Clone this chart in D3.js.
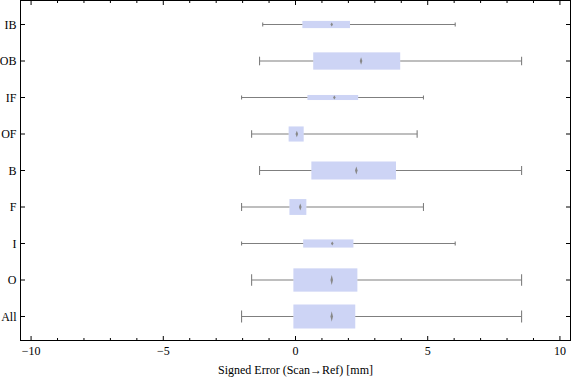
<!DOCTYPE html>
<html>
<head>
<meta charset="utf-8">
<script src="https://cdn.jsdelivr.net/npm/d3@7"></script>
<style>
  html, body { margin: 0; padding: 0; background: #fff; }
  svg { display: block; }
  text { font-family: "Liberation Serif", "Times New Roman", Times, serif; font-size: 12px; fill: #000; }
</style>
</head>
<body>
<svg id="chart" width="576" height="381"></svg>
<script>
// ---- data ----
const categories = ["IB", "OB", "IF", "OF", "B", "F", "I", "O", "All"];
const whiskerLo  = [-1.24, -1.36, -2.04, -1.66, -1.36, -2.04, -2.04, -1.66, -2.04];
const quartile1  = [0.26, 0.67, 0.45, -0.26, 0.60, -0.23, 0.29, -0.08, -0.08];
const medians    = [1.37, 2.48, 1.47, 0.05, 2.30, 0.18, 1.39, 1.37, 1.37];
const quartile3  = [2.06, 3.96, 2.37, 0.31, 3.80, 0.41, 2.19, 2.34, 2.26];
const whiskerHi  = [6.04, 8.55, 4.84, 4.60, 8.55, 4.84, 6.04, 8.55, 8.55];
const boxWeight  = [0.30, 0.72, 0.21, 0.63, 0.75, 0.66, 0.34, 0.97, 1.00];
const majorTicks = [-10, -5, 0, 5, 10];
const minorTicks = d3.range(-10, 11, 1);
const xDomain = [-10.4, 10.4];
const xTitle = "Signed Error (Scan\u2192Ref) [mm]";

// ---- layout ----
const svg = d3.select("#chart");
const frame = { left: 20.5, right: 570.5, top: 0.5, bottom: 340.5 };

const x = d3.scaleLinear().domain(xDomain).range([frame.left, frame.right]);
const y = d3.scalePoint().domain(categories).range([24.5, 316.5]);
const bw = d3.scaleLinear().domain([0, 1]).range([0, 24]);

const rows = categories.map((c, i) => ({
  c, lo: whiskerLo[i], q1: quartile1[i], med: medians[i], q3: quartile3[i], hi: whiskerHi[i], w: boxWeight[i]
}));

const gray = "#7f7f7f";
const g = svg.append("g");

// boxes
g.selectAll("rect.box").data(rows).join("rect")
  .attr("class", "box")
  .attr("x", d => x(d.q1))
  .attr("width", d => x(d.q3) - x(d.q1))
  .attr("y", d => y(d.c) - bw(d.w) / 2)
  .attr("height", d => bw(d.w))
  .attr("fill", "#cdd4f5");

// whiskers
g.selectAll("line.wl").data(rows).join("line")
  .attr("x1", d => x(d.lo)).attr("x2", d => x(d.q1))
  .attr("y1", d => y(d.c)).attr("y2", d => y(d.c))
  .attr("stroke", gray).attr("stroke-width", 1.1);
g.selectAll("line.wr").data(rows).join("line")
  .attr("x1", d => x(d.q3)).attr("x2", d => x(d.hi))
  .attr("y1", d => y(d.c)).attr("y2", d => y(d.c))
  .attr("stroke", gray).attr("stroke-width", 1.1);

// caps
const capH = d => Math.max(4, bw(d.w) * 0.5);
["lo", "hi"].forEach(k => {
  g.selectAll("line.cap" + k).data(rows).join("line")
    .attr("x1", d => x(d[k])).attr("x2", d => x(d[k]))
    .attr("y1", d => y(d.c) - capH(d) / 2).attr("y2", d => y(d.c) + capH(d) / 2)
    .attr("stroke", gray).attr("stroke-width", 1.1);
});

// median markers (thin diamonds)
g.selectAll("path.med").data(rows).join("path")
  .attr("d", d => {
    const cx = x(d.med), cy = y(d.c);
    const hh = Math.max(2, bw(d.w) * 0.22), hw = 1.3;
    return `M${cx},${cy - hh}L${cx + hw},${cy}L${cx},${cy + hh}L${cx - hw},${cy}Z`;
  })
  .attr("fill", "#888888");

// frame
svg.append("rect")
  .attr("x", frame.left).attr("y", frame.top)
  .attr("width", frame.right - frame.left).attr("height", frame.bottom - frame.top)
  .attr("fill", "none").attr("stroke", "#000").attr("stroke-width", 1);

// x ticks (bottom & top, inward)
const tickLen = v => majorTicks.includes(v) ? 4.5 : 2.5;
svg.selectAll("line.xb").data(minorTicks).join("line")
  .attr("x1", d => x(d)).attr("x2", d => x(d))
  .attr("y1", frame.bottom).attr("y2", d => frame.bottom - tickLen(d))
  .attr("stroke", "#000").attr("stroke-width", 1);
svg.selectAll("line.xt").data(minorTicks).join("line")
  .attr("x1", d => x(d)).attr("x2", d => x(d))
  .attr("y1", frame.top).attr("y2", d => frame.top + tickLen(d))
  .attr("stroke", "#000").attr("stroke-width", 1);

// x tick labels
svg.selectAll("text.xl").data(majorTicks).join("text")
  .attr("x", d => x(d)).attr("y", frame.bottom + 14.5)
  .attr("text-anchor", "middle")
  .text(d => d < 0 ? "\u2212" + Math.abs(d) : String(d));

// y ticks (left & right, inward)
svg.selectAll("line.yl").data(categories).join("line")
  .attr("x1", frame.left).attr("x2", frame.left + 4.5)
  .attr("y1", d => y(d)).attr("y2", d => y(d))
  .attr("stroke", "#000");
svg.selectAll("line.yr").data(categories).join("line")
  .attr("x1", frame.right).attr("x2", frame.right - 4.5)
  .attr("y1", d => y(d)).attr("y2", d => y(d))
  .attr("stroke", "#000");

// y labels
svg.selectAll("text.yl").data(categories).join("text")
  .attr("x", 16.5).attr("y", d => y(d) + 4)
  .attr("text-anchor", "end")
  .text(d => d);

// x title
svg.append("text")
  .attr("x", (frame.left + frame.right) / 2).attr("y", 374)
  .attr("text-anchor", "middle")
  .text(xTitle);
</script>
</body>
</html>
